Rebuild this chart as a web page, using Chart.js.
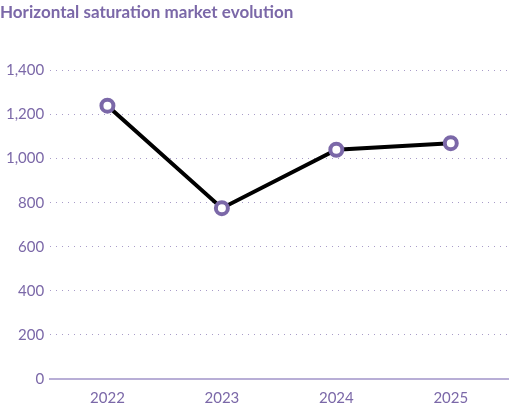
<!DOCTYPE html>
<html><head><meta charset="utf-8">
<script src="https://cdn.jsdelivr.net/npm/chart.js@4/dist/chart.umd.min.js"></script>
<style>
body{margin:0;background:#fff;}
.wrap{width:526px;height:413px;position:relative;}
</style></head>
<body><div class="wrap"><canvas id="c" width="526" height="413"></canvas></div>
<script>
let years = ["2022","2023","2024","2025"];
let values = [1240, 775, 1040, 1070];

let purple = "#7b68a8";
let ctx = document.getElementById("c");
new Chart(ctx,{
    type:"line",
    data:{
        labels:years,
        datasets:[{
            data:values,
            borderColor:"#000",
            borderWidth:4,
            pointRadius:6,
            pointHoverRadius:6,
            pointBorderWidth:4,
            pointBorderColor:purple,
            pointBackgroundColor:"#fff",
            tension:0
        }]
    },
    options:{
        responsive:false,
        animation:false,
        layout:{padding:{left:0,right:18,top:0,bottom:4}},
        plugins:{
            legend:{display:false},
            tooltip:{enabled:false},
            title:{display:true,text:"Horizontal saturation market evolution",align:"start",
                color:purple,font:{family:"Lato",size:17,weight:"bold"},padding:{top:2,bottom:48}}
        },
        scales:{
            x:{
                offset:true,
                grid:{display:false,drawTicks:true,tickLength:8,color:"#b8aed6"},
                border:{color:"#b8aed6",width:2},
                ticks:{color:purple,font:{family:"Lato",size:15},padding:2}
            },
            y:{
                min:0,max:1400,
                ticks:{stepSize:200,color:purple,font:{family:"Lato",size:15},padding:6},
                grid:{color:"#a89cc8",lineWidth:1,drawTicks:false},
                border:{display:false,dash:[1,5]}
            }
        }
    }
});
</script></body></html>
